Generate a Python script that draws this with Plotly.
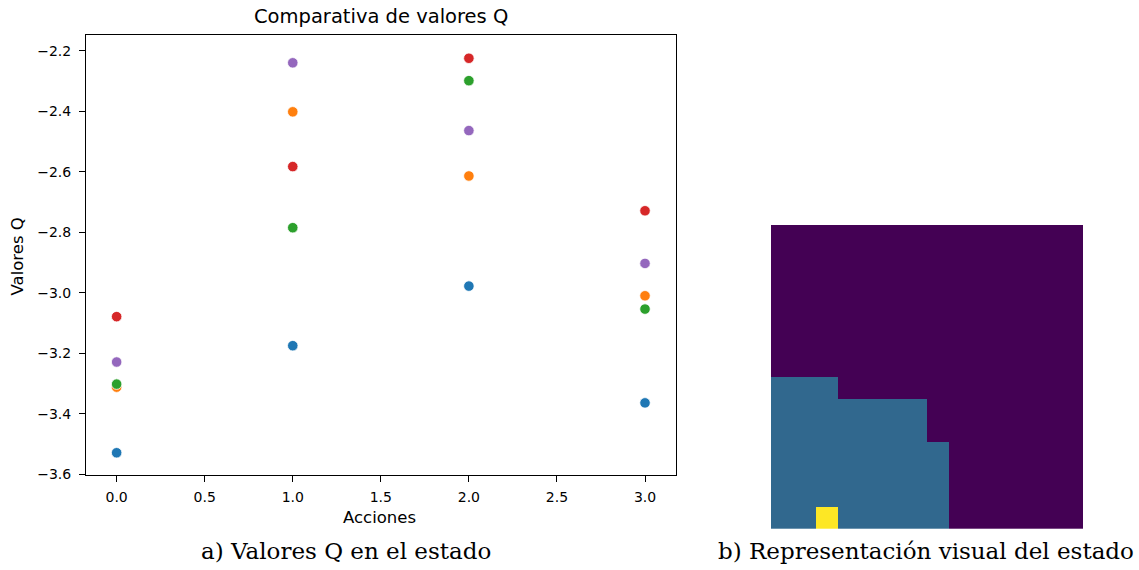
import plotly.graph_objects as go

# ---- data ----
acciones = [0, 1, 2, 3]
q_serie_1 = [-3.529, -3.175, -2.978, -3.364]
q_serie_2 = [-3.312, -2.402, -2.614, -3.010]
q_serie_3 = [-3.302, -2.785, -2.299, -3.054]
q_serie_4 = [-3.079, -2.583, -2.225, -2.729]
q_serie_5 = [-3.229, -2.240, -2.464, -2.903]
series_q = [q_serie_1, q_serie_2, q_serie_3, q_serie_4, q_serie_5]
colores = ["#1f77b4", "#ff7f0e", "#2ca02c", "#d62728", "#9467bd"]

y_ticks = [-3.6, -3.4, -3.2, -3.0, -2.8, -2.6, -2.4, -2.2]
x_ticks = [0.0, 0.5, 1.0, 1.5, 2.0, 2.5, 3.0]

# state grid (14 x 14): 0 = empty, 1 = filled, 3 = agent
estado = [
    [0] * 14,
    [0] * 14,
    [0] * 14,
    [0] * 14,
    [0] * 14,
    [0] * 14,
    [0] * 14,
    [1, 1, 1, 0, 0, 0, 0, 0, 0, 0, 0, 0, 0, 0],
    [1, 1, 1, 1, 1, 1, 1, 0, 0, 0, 0, 0, 0, 0],
    [1, 1, 1, 1, 1, 1, 1, 0, 0, 0, 0, 0, 0, 0],
    [1, 1, 1, 1, 1, 1, 1, 1, 0, 0, 0, 0, 0, 0],
    [1, 1, 1, 1, 1, 1, 1, 1, 0, 0, 0, 0, 0, 0],
    [1, 1, 1, 1, 1, 1, 1, 1, 0, 0, 0, 0, 0, 0],
    [1, 1, 3, 1, 1, 1, 1, 1, 0, 0, 0, 0, 0, 0],
]

W, H = 1139, 570
KY = 0.988  # vertical correction observed in the rendered picture


def px_x(p):
    return p / W


def px_y(p):
    return 1 - (p / KY) / H


fig = go.Figure()

for vals, col in zip(series_q, colores):
    fig.add_trace(go.Scatter(
        x=acciones, y=vals, mode="markers",
        marker=dict(size=10.5, color=col, line=dict(color="white", width=0.8)),
        xaxis="x", yaxis="y", showlegend=False,
    ))

fig.add_trace(go.Heatmap(
    z=estado, colorscale="Viridis", zmin=0, zmax=3, showscale=False,
    xaxis="x2", yaxis="y2", xgap=0, ygap=0,
))

tick_font = dict(family="DejaVu Sans", size=14, color="#000")

fig.update_layout(
    width=W, height=H,
    margin=dict(l=0, r=0, t=0, b=0),
    paper_bgcolor="white", plot_bgcolor="white",
    xaxis=dict(
        domain=[px_x(86), px_x(676)], range=[-0.174, 3.176],
        tickvals=x_ticks, tickformat=".1f",
        showline=True, linecolor="#000", linewidth=1, mirror=True,
        ticks="outside", ticklen=6, tickwidth=1, tickcolor="#000",
        ticklabelstandoff=3,
        showgrid=False, zeroline=False, tickfont=tick_font, anchor="y",
    ),
    yaxis=dict(
        domain=[px_y(475), px_y(35)], range=[-3.602, -2.148],
        tickvals=y_ticks, tickformat=".1f",
        showline=True, linecolor="#000", linewidth=1, mirror=True,
        ticks="outside", ticklen=6, tickwidth=1, tickcolor="#000",
        ticklabelstandoff=5,
        showgrid=False, zeroline=False, tickfont=tick_font, anchor="x",
    ),
    xaxis2=dict(
        domain=[px_x(771), px_x(1083)], range=[-0.5, 13.5],
        visible=False, anchor="y2", showgrid=False, zeroline=False,
    ),
    yaxis2=dict(
        domain=[px_y(529), px_y(225)], range=[13.5, -0.5],
        visible=False, anchor="x2", showgrid=False, zeroline=False,
    ),
)

anns = [
    dict(text="Comparativa de valores Q", x=px_x(381), y=px_y(17),
         font=dict(family="DejaVu Sans", size=19.5, color="#000")),
    dict(text="Acciones", x=px_x(379), y=px_y(518),
         font=dict(family="DejaVu Sans", size=16.5, color="#000")),
    dict(text="Valores Q", x=px_x(17.5), y=px_y(257), textangle=-90,
         font=dict(family="DejaVu Sans", size=16.5, color="#000")),
    dict(text="a) Valores Q en el estado", x=px_x(345.5), y=px_y(551),
         font=dict(family="DejaVu Serif", size=23, color="#000")),
    dict(text="b) Representación visual del estado", x=px_x(926), y=px_y(551),
         font=dict(family="DejaVu Serif", size=23, color="#000")),
]
for a in anns:
    a.update(xref="paper", yref="paper", showarrow=False,
             xanchor="center", yanchor="middle")
fig.update_layout(annotations=anns)

fig.write_html(
    "out.html",
    config={"displayModeBar": False},
    post_script="document.body.style.margin='0';document.body.style.overflow='hidden';",
)
